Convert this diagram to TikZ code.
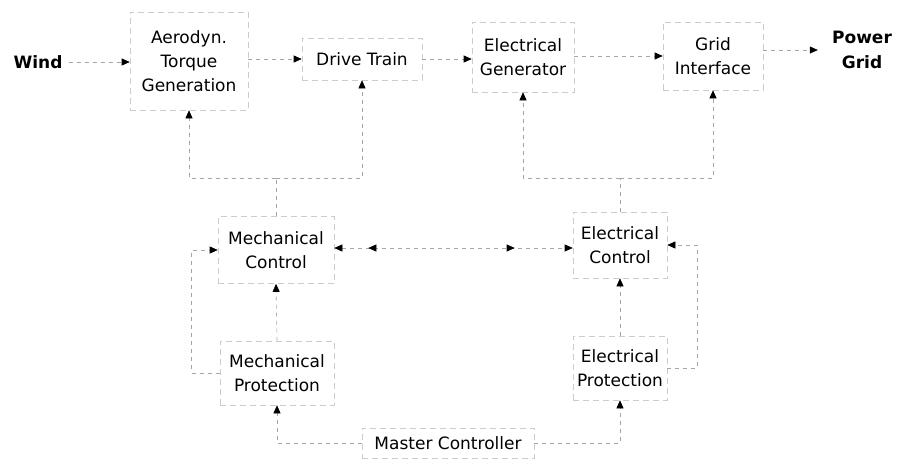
\documentclass[tikz,border=0pt]{standalone}
\usepackage{fontspec}
\setmainfont{DejaVu Sans}
\usetikzlibrary{arrows.meta,decorations.markings}
\begin{document}
\begin{tikzpicture}[x=1pt,y=-1pt,
  blk/.style={draw=black!20, dash pattern=on 6pt off 4pt, line width=0.6pt, align=center, inner sep=0pt, font=\fontsize{17}{24}\selectfont},
  ext/.style={align=center, inner sep=0pt, font=\bfseries\fontsize{17}{25}\selectfont},
  wire/.style={draw=black!35, dash pattern=on 4pt off 4pt, line width=0.6pt},
  conn/.style={wire, -{Triangle[length=8pt,width=7pt,color=black]}},
  biconn/.style={wire, {Triangle[length=8pt,width=7pt,color=black]}-{Triangle[length=8pt,width=7pt,color=black]}}
]
\useasboundingbox (0,0) rectangle (899,467);

% top row
\node[ext, inner xsep=6pt] (wind) at (38,62) {Wind};
\node[blk, minimum width=118pt, minimum height=98pt] (aero) at (189,61) {Aerodyn.\\Torque\\Generation};
\node[blk, minimum width=120pt, minimum height=42pt] (drive) at (362,59) {Drive Train};
\node[blk, minimum width=102pt, minimum height=70pt] (gen) at (523,57) {Electrical\\Generator};
\node[blk, minimum width=100pt, minimum height=68pt] (grid) at (713,56) {Grid\\Interface};
\node[ext, minimum width=88pt] (power) at (862,50) {Power\\Grid};

% control row
\node[blk, minimum width=116pt, minimum height=67pt] (mc) at (276,250) {Mechanical\\Control};
\node[blk, minimum width=94pt, minimum height=66pt] (ec) at (620,245) {Electrical\\Control};

% protection row
\node[blk, minimum width=114pt, minimum height=64pt] (mp) at (277,373) {Mechanical\\Protection};
\node[blk, minimum width=94pt, minimum height=64pt] (ep) at (620,368) {Electrical\\Protection};

% master
\node[blk, minimum width=172pt, minimum height=30pt] (master) at (448,443) {Master Controller};

\coordinate (mbus) at (276,178);
\coordinate (ebus) at (620,178);

% power flow
\draw[conn] (wind) -- (aero.west |- wind.east);
\draw[conn] (aero.east |- drive.west) -- (drive.west);
\draw[conn] (drive.east) -- (gen.west |- drive.east);
\draw[conn] (gen.east |- grid.west) -- (grid.west);
\draw[conn] (grid.east |- power.west) -- (power.west);

% control outputs
\draw[wire] (mc.north) -- (mbus);
\draw[conn] (mbus) -| (aero.south);
\draw[conn] (mbus) -| (drive.south);
\draw[wire] (ec.north) -- (ebus);
\draw[conn] (ebus) -| (gen.south);
\draw[conn] (ebus) -| (grid.south);

% control link
\draw[biconn, postaction={decorate}, decoration={markings,
  mark=at position 34pt with {\arrowreversed{Triangle[length=8pt,width=7pt,color=black]}},
  mark=at position -58pt with {\arrow{Triangle[length=8pt,width=7pt,color=black]}}}]
  (mc.east |- 0,248) -- (ec.west |- 0,248);

% protection to control
\draw[conn] (mp.north) -- (mc.south);
\draw[conn] (ep.north) -- (ec.south);
\draw[conn] (mp.west) -- ++(-28,0) |- (mc.west);
\draw[conn] (ep.east) -- ++(30,0) |- (ec.east);

% master to protection
\draw[conn] (master.west) -| (mp.south);
\draw[conn] (master.east) -| (ep.south);
\end{tikzpicture}
\end{document}
